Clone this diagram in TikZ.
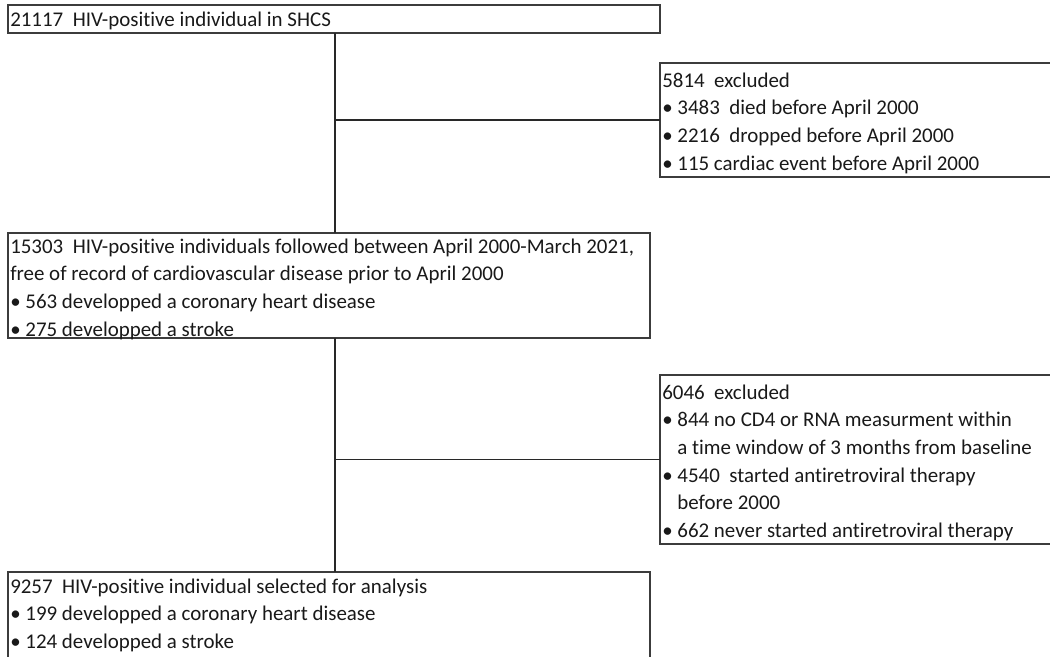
\documentclass[tikz,border=0pt]{standalone}
\usepackage{fontspec}
\setmainfont{Carlito}[Ligatures={NoCommon}]
\definecolor{boxgray}{RGB}{60,60,60}
\definecolor{txtgray}{RGB}{25,25,25}
\definecolor{linegray}{RGB}{40,40,40}
\newcommand{\bl}{\textbullet\ }
\newcommand{\ind}{\phantom{\textbullet\ }}
\begin{document}
\begin{tikzpicture}[x=0.75pt,y=-0.75pt,
  box/.style={draw=boxgray, line width=1.1pt, rectangle, inner sep=0pt, outer sep=0pt, anchor=north west},
  txt/.style={anchor=base west, inner sep=0pt, text=txtgray, font=\fontsize{15.7}{20.8}\selectfont},
  link/.style={draw=linegray, line width=1.1pt}]
\useasboundingbox (0,0) rectangle (1050,657);
\clip (0,0) rectangle (1050,657);
% boxes
\node[box, minimum width=489pt, minimum height=21pt] (b1) at (8,5) {};
\node[box, minimum width=300pt, minimum height=85.5pt] (b3) at (660,63) {};
\node[box, minimum width=481.5pt, minimum height=78.75pt] (b2) at (8,233) {};
\node[box, minimum width=300pt, minimum height=126.75pt] (b4) at (660,375) {};
\node[box, minimum width=481.5pt, minimum height=75pt] (b5) at (8,572) {};
% texts
\node[txt] (t1) at (10,26) {21117~~HIV-positive individual in SHCS};
\node[txt] (t3) at (662,87) {\begin{tabular}[t]{@{}l@{}}
5814~~excluded\\
\bl 3483~~died before April 2000\\
\bl 2216~~dropped before April 2000\\
\bl 115 cardiac event before April 2000
\end{tabular}};
\node[txt] (t2) at (10,253) {\begin{tabular}[t]{@{}l@{}}
15303~~HIV-positive individuals followed between April 2000-March 2021,\\
free of record of cardiovascular disease prior to April 2000\\
\bl 563 developped a coronary heart disease\\
\bl 275 developped a stroke
\end{tabular}};
\node[txt] (t4) at (662,399) {\begin{tabular}[t]{@{}l@{}}
6046~~excluded\\
\bl 844 no CD4 or RNA measurment within\\
\ind a time window of 3 months from baseline\\
\bl 4540~~started antiretroviral therapy\\
\ind before 2000\\
\bl 662 never started antiretroviral therapy
\end{tabular}};
\node[txt] (t5) at (10,593) {\begin{tabular}[t]{@{}l@{}}
9257~~HIV-positive individual selected for analysis\\
\bl 199 developped a coronary heart disease\\
\bl 124 developped a stroke
\end{tabular}};
% connectors
\coordinate (vx) at (335,0);
\draw[link] (b1.south -| vx) -- (b2.north -| vx);
\draw[link] (b2.south -| vx) -- (b5.north -| vx);
\draw[link] (vx |- b3.west) -- (b3.west);
\draw[link] (vx |- b4.west) -- (b4.west);
\end{tikzpicture}
\end{document}
